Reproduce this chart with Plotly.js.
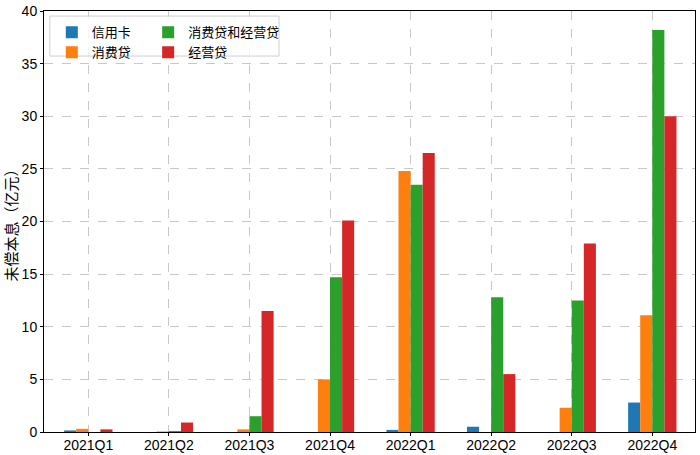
<!DOCTYPE html>
<html>
<head>
<meta charset="utf-8">
<script src="https://cdn.plot.ly/plotly-3.0.1.min.js"></script>
<style>
	body { margin: 0; background: #ffffff; }
	#plot1 { width: 700px; height: 455px; }
</style>
</head>
<body>
<div id="plot1"></div>
<script>
// Quarters on the x axis
var quarters = ['2021Q1', '2021Q2', '2021Q3', '2021Q4', '2022Q1', '2022Q2', '2022Q3', '2022Q4'];

// Outstanding principal and interest, 100 million yuan
var creditCard   = [0.15, 0,    0,    0,    0.2,  0.5,  0,    2.8];
var consumer     = [0.3,  0.05, 0.25, 5.0,  24.8, 0,    2.3,  11.1];
var consumerBiz  = [0,    0.1,  1.5,  14.7, 23.5, 12.8, 12.5, 38.2];
var business     = [0.25, 0.9,  11.5, 20.1, 26.5, 5.5,  17.9, 30.0];

var yTicks = [0, 5, 10, 15, 20, 25, 30, 35, 40];

function makeBar(name, values, color, legendId) {
	return {
		type: 'bar',
		x: quarters,
		y: values,
		name: name,
		legend: legendId,
		marker: { color: color, line: { width: 0 } },
		hoverinfo: 'skip'
	};
}

var data = [
	makeBar('信用卡', creditCard, '#1f77b4', 'legend'),
	makeBar('消费贷', consumer, '#ff7f0e', 'legend'),
	makeBar('消费贷和经营贷', consumerBiz, '#2ca02c', 'legend2'),
	makeBar('经营贷', business, '#d62728', 'legend2')
];

var legendFont = { family: 'Noto Sans CJK SC', size: 13, color: '#000000' };

var layout = {
	autosize: false,
	width: 700,
	height: 455,
	paper_bgcolor: '#ffffff',
	plot_bgcolor: '#ffffff',
	margin: { l: 44, r: 5, t: 11, b: 23 },
	barmode: 'group',
	bargap: 0.4,
	bargroupgap: 0,
	font: { family: 'Liberation Sans, Noto Sans CJK SC', size: 14, color: '#000000' },
	xaxis: {
		type: 'category',
		range: [-0.55, 7.53],
		showgrid: true,
		gridcolor: '#c8c8c8',
		griddash: 'dash',
		gridwidth: 1,
		showline: true,
		linecolor: '#000000',
		linewidth: 1,
		mirror: true,
		ticks: 'outside',
		ticklen: 3,
		tickcolor: '#000000',
		ticklabelstandoff: -3,
		zeroline: false,
		tickfont: { family: 'Liberation Sans', size: 14 }
	},
	yaxis: {
		range: [0, 40],
		tickvals: yTicks,
		showgrid: true,
		gridcolor: '#c8c8c8',
		griddash: 'dash',
		gridwidth: 1,
		showline: true,
		linecolor: '#000000',
		linewidth: 1,
		mirror: true,
		ticks: 'outside',
		ticklen: 3,
		tickcolor: '#000000',
		zeroline: false,
		tickfont: { family: 'Liberation Sans', size: 14 },
		title: {
			text: '未偿本息（亿元）',
			font: { family: 'Noto Sans CJK SC', size: 15 },
			standoff: 6
		}
	},
	legend: {
		x: 0.012,
		y: 0.985,
		xanchor: 'left',
		yanchor: 'top',
		bgcolor: 'rgba(0,0,0,0)',
		borderwidth: 0,
		font: legendFont,
		tracegroupgap: 0
	},
	legend2: {
		x: 0.16,
		y: 0.985,
		xanchor: 'left',
		yanchor: 'top',
		bgcolor: 'rgba(0,0,0,0)',
		borderwidth: 0,
		font: legendFont,
		tracegroupgap: 0
	},
	shapes: [
		{
			// legend frame
			type: 'rect',
			xref: 'paper',
			yref: 'paper',
			x0: 0.009,
			x1: 0.361,
			y0: 0.893,
			y1: 0.988,
			line: { color: '#d0d0d0', width: 1 },
			fillcolor: 'rgba(255,255,255,0.8)',
			layer: 'above'
		}
	]
};

Plotly.newPlot('plot1', data, layout, { displayModeBar: false, staticPlot: true });
</script>
</body>
</html>
